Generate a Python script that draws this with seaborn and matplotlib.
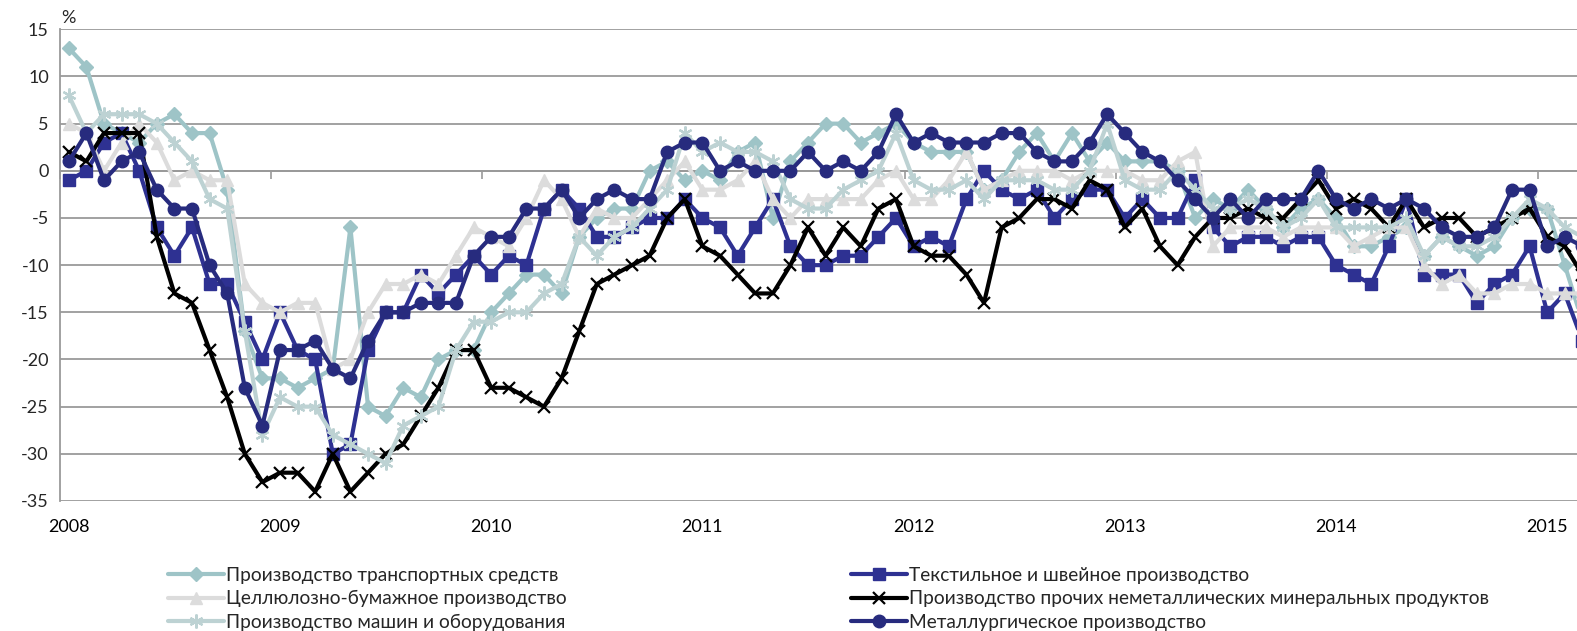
import matplotlib
matplotlib.use("Agg")
import matplotlib.pyplot as plt
import seaborn as sns
import pandas as pd
import numpy as np

# ---------------- data (monthly, Jan 2008 - Mar 2015, %) ----------------
year_labels = ["2008", "2009", "2010", "2011", "2012", "2013", "2014", "2015"]

transport = [13, 11, 5, 4, 3, 5, 6, 4, 4, -2, -17, -22,
             -22, -23, -22, -21, -6, -25, -26, -23, -24, -20, -19, -19,
             -15, -13, -11, -11, -13, -7, -5, -4, -4, 0, 1, -1,
             0, -1, 2, 3, -5, 1, 3, 5, 5, 3, 4, 5,
             3, 2, 2, 2, -2, -1, 2, 4, 1, 4, 1, 3,
             1, 1, 1, 0, -5, -3, -4, -2, -4, -6, -4, -3,
             -5, -8, -8, -7, -6, -9, -7, -8, -9, -8, -5, -4,
             -4, -10, -16]

textile = [-1, 0, 3, 4, 0, -6, -9, -6, -12, -12, -16, -20,
           -15, -19, -20, -30, -29, -19, -15, -15, -11, -13, -11, -9,
           -11, -9, -10, -4, -2, -4, -7, -7, -6, -5, -5, -3,
           -5, -6, -9, -6, -3, -8, -10, -10, -9, -9, -7, -5,
           -8, -7, -8, -3, 0, -2, -3, -2, -5, -3, -2, -2,
           -5, -3, -5, -5, -1, -6, -8, -7, -7, -8, -7, -7,
           -10, -11, -12, -8, -3, -11, -11, -11, -14, -12, -11, -8,
           -15, -13, -18]

pulp = [5, 4, 0, 3, 5, 3, -1, 0, -1, -1, -12, -14,
        -15, -14, -14, -21, -20, -15, -12, -12, -11, -12, -9, -6,
        -7, -8, -5, -1, -3, -7, -4, -5, -5, -3, -1, 1,
        -2, -2, -1, 1, -3, -5, -3, -3, -3, -3, -1, 0,
        -3, -3, -1, 2, -2, -1, 0, 0, 0, -1, 0, 0,
        0, -1, -1, 1, 2, -8, -6, -6, -6, -7, -6, -6,
        -6, -8, -7, -6, -6, -10, -12, -11, -13, -13, -12, -12,
        -13, -13, -13]

nonmetal = [2, 1, 4, 4, 4, -7, -13, -14, -19, -24, -30, -33,
            -32, -32, -34, -30, -34, -32, -30, -29, -26, -23, -19, -19,
            -23, -23, -24, -25, -22, -17, -12, -11, -10, -9, -5, -3,
            -8, -9, -11, -13, -13, -10, -6, -9, -6, -8, -4, -3,
            -8, -9, -9, -11, -14, -6, -5, -3, -3, -4, -1, -2,
            -6, -4, -8, -10, -7, -5, -5, -4, -5, -5, -3, -1,
            -4, -3, -4, -6, -3, -6, -5, -5, -7, -6, -5, -4,
            -7, -8, -11]

machines = [8, 4, 6, 6, 6, 5, 3, 1, -3, -4, -17, -28,
            -24, -25, -25, -28, -29, -30, -31, -27, -26, -25, -19, -16,
            -16, -15, -15, -13, -12, -7, -9, -7, -6, -4, -2, 4,
            2, 3, 2, 2, 1, -3, -4, -4, -2, -1, 0, 4,
            -1, -2, -2, -1, -3, -1, -1, -1, -2, -2, 0, 5,
            -1, -2, -2, 0, -2, -4, -4, -3, -4, -6, -5, -3,
            -6, -6, -6, -6, -5, -9, -7, -8, -8, -7, -5, -3,
            -4, -6, -7]

metallurgy = [1, 4, -1, 1, 2, -2, -4, -4, -10, -13, -23, -27,
              -19, -19, -18, -21, -22, -18, -15, -15, -14, -14, -14, -9,
              -7, -7, -4, -4, -2, -5, -3, -2, -3, -3, 2, 3,
              3, 0, 1, 0, 0, 0, 2, 0, 1, 0, 2, 6,
              3, 4, 3, 3, 3, 4, 4, 2, 1, 1, 3, 6,
              4, 2, 1, -1, -3, -5, -3, -5, -3, -3, -3, 0,
              -3, -4, -3, -4, -3, -4, -6, -7, -7, -6, -2, -2,
              -8, -7, -8]

names = {
    "transport": "Производство транспортных средств",
    "textile": "Текстильное и швейное производство",
    "pulp": "Целлюлозно-бумажное производство",
    "nonmetal": "Производство прочих неметаллических минеральных продуктов",
    "machines": "Производство машин и оборудования",
    "metallurgy": "Металлургическое производство",
}

months = pd.date_range("2008-01-01", periods=len(transport), freq="MS")
df = pd.DataFrame({
    "month": months,
    "transport": transport, "textile": textile, "pulp": pulp,
    "nonmetal": nonmetal, "machines": machines, "metallurgy": metallurgy,
})
df["pos"] = np.arange(len(df))

# ---------------- style ----------------
sns.set_theme(style="white")
plt.rcParams["font.family"] = ["Lato", "Open Sans", "DejaVu Sans"]
FS_TICK = 13
FS_LEG = 13.8

W, H = 1577, 631
fig = plt.figure(figsize=(W / 100, H / 100), dpi=100)
ax = fig.add_axes([60 / W, 1 - 501 / H, (W - 60) / W, (501 - 29.3) / H])

styles = {
    "transport": dict(color="#9EC4C7", marker="D", ms=7.5, mew=1, z=3),
    "textile": dict(color="#2E3192", marker="s", ms=8.5, mew=1, z=4),
    "pulp": dict(color="#DCDCDC", marker="^", ms=9, mew=1, z=5),
    "nonmetal": dict(color="#000000", marker="x", ms=9, mew=1.6, z=6),
    "machines": dict(color="#BDD2D3", marker=(6, 2, 0), ms=10, mew=1.6, z=7),
    "metallurgy": dict(color="#272B7E", marker="o", ms=9, mew=1, z=8),
}

for key in ["transport", "textile", "pulp", "nonmetal", "machines", "metallurgy"]:
    st = styles[key]
    sns.lineplot(data=df, x="pos", y=key, ax=ax, color=st["color"], lw=3.0,
                 marker=st["marker"], markersize=st["ms"], markeredgecolor=st["color"],
                 markerfacecolor=st["color"], markeredgewidth=st["mew"],
                 label=names[key], legend=False, zorder=st["z"], clip_on=True)

ax.set_xlim(-0.5, (W - 60) / 17.6 - 0.5)
ax.set_ylim(-35, 15)
ax.set_yticks(np.arange(-35, 16, 5))
ax.set_yticklabels([str(v) for v in range(-35, 16, 5)], fontsize=FS_TICK)
ax.set_xticks(np.arange(0, len(df), 12))
ax.set_xticklabels(year_labels, fontsize=FS_TICK)
ax.tick_params(axis="x", length=0, pad=13, colors="#000000")
ax.tick_params(axis="y", length=6, width=1.2, color="#999999", pad=2, direction="out")
ax.set_xlabel("")
ax.set_ylabel("")
ax.grid(axis="y", color="#9A9A9A", lw=1.3, zorder=0)
ax.grid(axis="x", visible=False)
for s in ["top", "right", "bottom"]:
    ax.spines[s].set_visible(False)
ax.spines["left"].set_color("#9A9A9A")
ax.spines["left"].set_linewidth(1.3)
ax.set_axisbelow(True)

# category axis crossing at zero with year tick marks
ax2 = ax.twiny()
ax2.set_xlim(ax.get_xlim())
ax2.spines["bottom"].set_position(("data", 0))
ax2.spines["bottom"].set_color("#9A9A9A")
ax2.spines["bottom"].set_linewidth(1.3)
for s in ["top", "right", "left"]:
    ax2.spines[s].set_visible(False)
ax2.xaxis.set_ticks_position("bottom")
ax2.set_xticks(np.arange(-0.5, len(df), 12))
ax2.set_xticklabels([])
ax2.tick_params(axis="x", length=6, width=1.2, color="#9A9A9A", direction="out")
ax2.grid(False)
ax2.set_zorder(0)
ax.set_zorder(1)
ax.patch.set_visible(False)

fig.text(61 / W, 1 - 18 / H, "%", fontsize=FS_TICK, va="center", ha="left")

handles, labels = ax.get_legend_handles_labels()
hmap = dict(zip(labels, handles))
col1 = [names["transport"], names["pulp"], names["machines"]]
col2 = [names["textile"], names["nonmetal"], names["metallurgy"]]
common = dict(frameon=False, fontsize=FS_LEG, handlelength=2.9, handletextpad=0.12,
              labelspacing=0.33, borderpad=0, borderaxespad=0, loc="upper left")
leg1 = fig.legend([hmap[l] for l in col1], col1, bbox_to_anchor=(168 / W, 1 - 567 / H), **common)
leg2 = fig.legend([hmap[l] for l in col2], col2, bbox_to_anchor=(851 / W, 1 - 567 / H), **common)

fig.savefig("out.png", dpi=100)
